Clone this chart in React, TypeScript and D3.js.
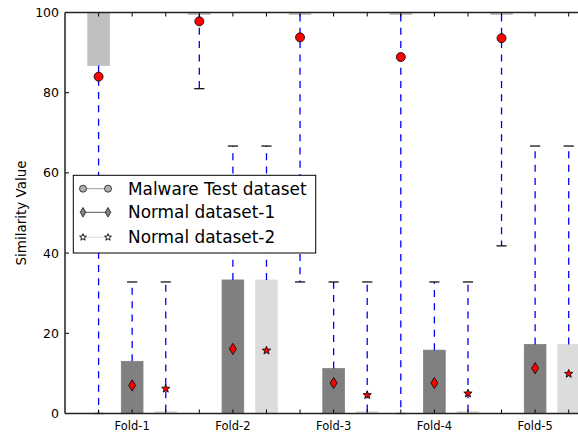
import React from "react";
import * as d3 from "d3";

const folds = ["Fold-1", "Fold-2", "Fold-3", "Fold-4", "Fold-5"];
const seriesNames = ["Malware Test dataset", "Normal dataset-1", "Normal dataset-2"];

const malwareQ1 = [86.8, 99.5, 99.5, 99.5, 99.5];
const malwareQ3 = [100, 100, 100, 100, 100];
const malwareLow = [0, 81, 32.8, 0, 41.8];
const malwareHigh = [100, 100, 100, 100, 100];
const malwareMean = [84.0, 97.8, 93.8, 88.9, 93.6];

const normal1Q1 = [0, 0, 0, 0, 0];
const normal1Q3 = [13.0, 33.3, 11.2, 15.8, 17.2];
const normal1Low = [0, 0, 0, 0, 0];
const normal1High = [32.8, 66.7, 32.8, 32.8, 66.7];
const normal1Mean = [7.0, 16.1, 7.6, 7.6, 11.3];

const normal2Q1 = [0, 0, 0, 0, 0];
const normal2Q3 = [0.5, 33.3, 0.5, 0.5, 17.2];
const normal2Low = [0, 0, 0, 0, 0];
const normal2High = [32.8, 66.7, 32.8, 32.8, 66.7];
const normal2Mean = [6.2, 15.7, 4.6, 5.0, 9.9];

const yTicks = [0, 20, 40, 60, 80, 100];
const xTickPositions = d3.range(1, 16);

const W = 578, H = 434;
const FONT = "DejaVu Sans, sans-serif";

function starPath(cx: number, cy: number, R: number) {
  const r = R * 0.42;
  const pts: string[] = [];
  for (let i = 0; i < 10; i++) {
    const a = -Math.PI / 2 + (i * Math.PI) / 5;
    const rr = i % 2 === 0 ? R : r;
    pts.push(`${cx + rr * Math.cos(a)},${cy + rr * Math.sin(a)}`);
  }
  return "M" + pts.join("L") + "Z";
}
function diamondPath(cx: number, cy: number, hw: number, hh: number) {
  return `M${cx},${cy - hh}L${cx + hw},${cy}L${cx},${cy + hh}L${cx - hw},${cy}Z`;
}

export default function App() {
  const x = d3.scaleLinear().domain([0, 16]).range([65, 65 + 16 * 33.58]);
  const y = d3.scaleLinear().domain([0, 100]).range([413.5, 12.5]);
  const boxW = x(0.646) - x(0);
  const capW = boxW * 0.47;

  const series = [
    { q1: malwareQ1, q3: malwareQ3, lo: malwareLow, hi: malwareHigh, mean: malwareMean, fill: "#c0c0c0", marker: "circle", offset: 1 },
    { q1: normal1Q1, q3: normal1Q3, lo: normal1Low, hi: normal1High, mean: normal1Mean, fill: "#808080", marker: "diamond", offset: 2 },
    { q1: normal2Q1, q3: normal2Q3, lo: normal2Low, hi: normal2High, mean: normal2Mean, fill: "#dcdcdc", marker: "star", offset: 3 },
  ];

  const boxes: React.ReactNode[] = [];
  const whiskers: React.ReactNode[] = [];
  const means: React.ReactNode[] = [];
  series.forEach((s, si) => {
    folds.forEach((f, fi) => {
      const pos = fi * 3 + s.offset;
      const cx = x(pos);
      const yTop = y(s.q3[fi]);
      const yBot = y(s.q1[fi]);
      boxes.push(
        <rect key={`b${si}-${fi}`} x={cx - boxW / 2} y={yTop} width={boxW} height={Math.max(yBot - yTop, 0.5)}
          fill={s.fill} stroke={s.fill} strokeWidth={0.8} />
      );
      if (s.hi[fi] > s.q3[fi]) {
        whiskers.push(
          <line key={`wh${si}-${fi}`} x1={cx} x2={cx} y1={yTop} y2={y(s.hi[fi])} stroke="#0000ff" strokeWidth={1.3} strokeDasharray="7,6.3" />
        );
        whiskers.push(
          <line key={`ch${si}-${fi}`} x1={cx - capW / 2} x2={cx + capW / 2} y1={y(s.hi[fi])} y2={y(s.hi[fi])} stroke="#000" strokeWidth={1.2} />
        );
      }
      if (s.lo[fi] < s.q1[fi]) {
        whiskers.push(
          <line key={`wl${si}-${fi}`} x1={cx} x2={cx} y1={yBot} y2={y(s.lo[fi])} stroke="#0000ff" strokeWidth={1.3} strokeDasharray="7,6.3" />
        );
        whiskers.push(
          <line key={`cl${si}-${fi}`} x1={cx - capW / 2} x2={cx + capW / 2} y1={y(s.lo[fi])} y2={y(s.lo[fi])} stroke="#000" strokeWidth={1.2} />
        );
      }
      const my = y(s.mean[fi]);
      if (s.marker === "circle") {
        means.push(<circle key={`m${si}-${fi}`} cx={cx} cy={my} r={4.5} fill="#ff0000" stroke="#000" strokeWidth={0.8} />);
      } else if (s.marker === "diamond") {
        means.push(<path key={`m${si}-${fi}`} d={diamondPath(cx, my, 3.5, 5.6)} fill="#ff0000" stroke="#000" strokeWidth={0.8} />);
      } else {
        means.push(<path key={`m${si}-${fi}`} d={starPath(cx, my, 4.4)} fill="#ff0000" stroke="#000" strokeWidth={0.8} />);
      }
    });
  });

  const legendRows = [
    { name: seriesNames[0], line: "#9a9a9a", kind: "circle", fill: "#b0b0b0" },
    { name: seriesNames[1], line: "#555", kind: "diamond", fill: "#808080" },
    { name: seriesNames[2], line: "#dcdcdc", kind: "star", fill: "#ffffff" },
  ];
  const legY = [188.7, 212.3, 237.3];
  const lx1 = 83, lx2 = 108;

  const xMin = x(0), xMax = x(16);
  const yMin = y(0), yMax = y(100);

  return (
    <div style={{ position: "fixed", left: 0, top: 0 }}>
      <svg width={W} height={H} style={{ display: "block", background: "#fff" }} fontFamily={FONT}>
        <rect x={0} y={0} width={W} height={H} fill="#fff" />
        <g>{boxes}</g>
        <g>{whiskers}</g>
        <g>{means}</g>
        {xTickPositions.map((p) => (
          <g key={`xt${p}`}>
            <line x1={x(p)} x2={x(p)} y1={yMin} y2={yMin - 4} stroke="#000" strokeWidth={1} />
            <line x1={x(p)} x2={x(p)} y1={yMax} y2={yMax + 4} stroke="#000" strokeWidth={1} />
          </g>
        ))}
        {yTicks.map((t) => (
          <g key={`yt${t}`}>
            <line x1={xMin} x2={xMin + 4} y1={y(t)} y2={y(t)} stroke="#000" strokeWidth={1} />
            <text x={xMin - 6} y={y(t)} dy="0.36em" textAnchor="end" fontSize={12.5} fill="#000">{t}</text>
          </g>
        ))}
        {folds.map((f, fi) => (
          <text key={`fl${fi}`} x={x(fi * 3 + 2)} y={429.5} textAnchor="middle" fontSize={11.5} fill="#000">{f}</text>
        ))}
        <line x1={xMin} x2={xMax} y1={yMin} y2={yMin} stroke="#222" strokeWidth={1.5} />
        <line x1={xMin} x2={xMax} y1={yMax} y2={yMax} stroke="#222" strokeWidth={1.5} />
        <line x1={xMin} x2={xMin} y1={yMax} y2={yMin} stroke="#222" strokeWidth={1.5} />
        <text transform={`translate(21,${(yMin + yMax) / 2}) rotate(-90)`} textAnchor="middle" dy="0.36em" fontSize={13.5} fill="#000">Similarity Value</text>
        <rect x={73.3} y={175.3} width={242.4} height={77.7} fill="#fff" stroke="#000" strokeWidth={1} />
        {legendRows.map((r, i) => {
          const yy = legY[i];
          const mk = (cx: number) =>
            r.kind === "circle" ? (
              <circle cx={cx} cy={yy} r={3.5} fill={r.fill} stroke="#000" strokeWidth={0.7} />
            ) : r.kind === "diamond" ? (
              <path d={diamondPath(cx, yy, 2.8, 4.8)} fill={r.fill} stroke="#000" strokeWidth={0.7} />
            ) : (
              <path d={starPath(cx, yy, 3.6)} fill={r.fill} stroke="#000" strokeWidth={0.9} />
            );
          return (
            <g key={`lg${i}`}>
              <line x1={lx1} x2={lx2} y1={yy} y2={yy} stroke={r.line} strokeWidth={1} />
              {mk(lx1)}
              {mk(lx2)}
              <text x={128} y={yy} dy="0.36em" fontSize={16.9} fill="#000">{r.name}</text>
            </g>
          );
        })}
      </svg>
    </div>
  );
}
